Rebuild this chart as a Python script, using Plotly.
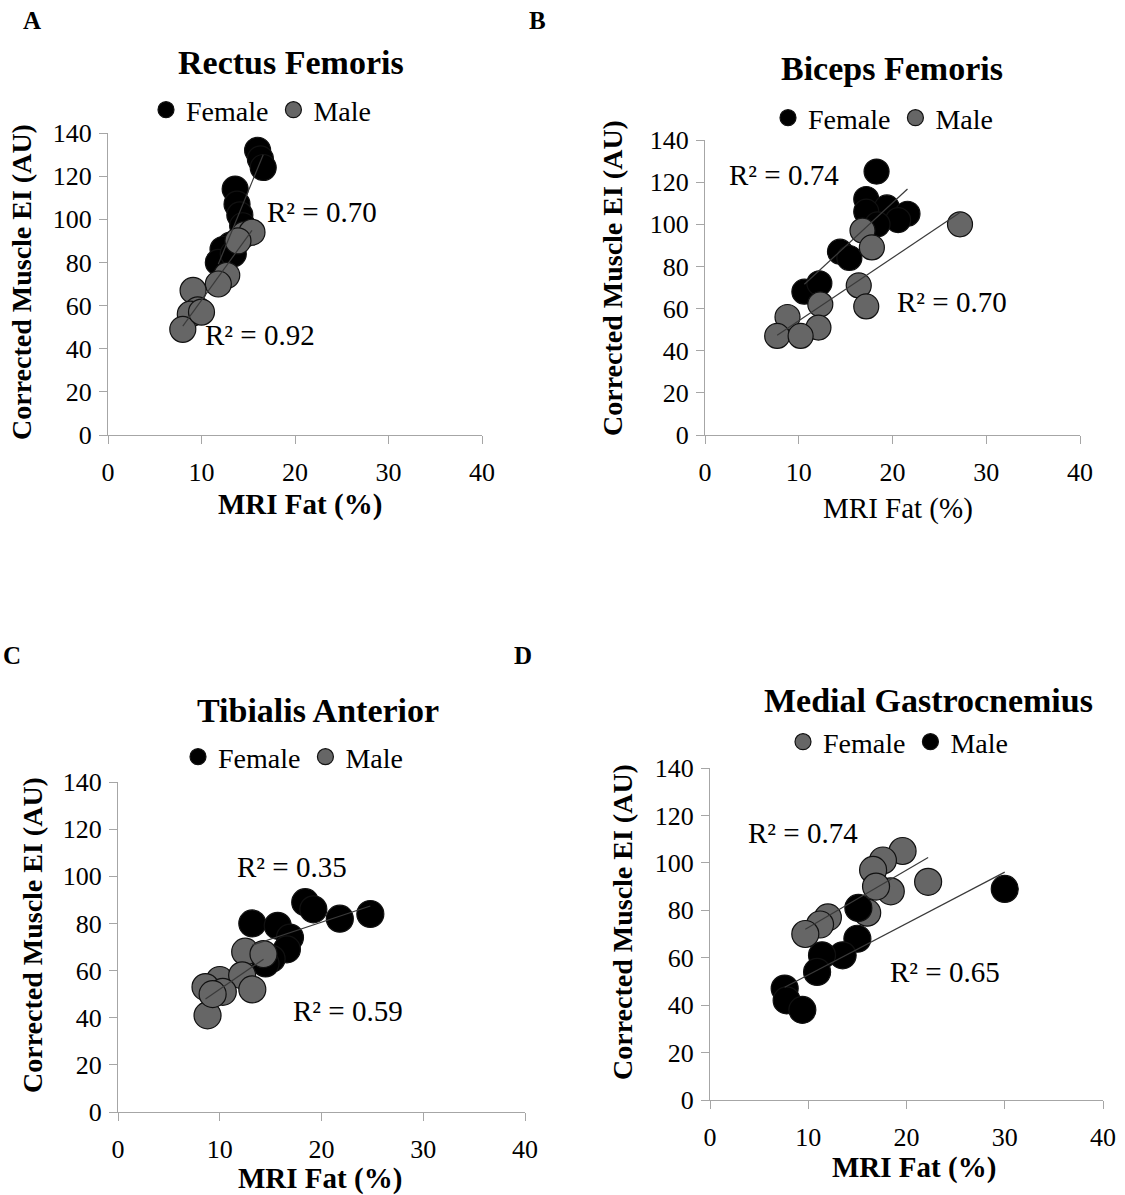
import numpy as np
import plotly.graph_objects as go

FONT = "Liberation Serif"

# ---------------- data ----------------
# Panel A - Rectus Femoris
a_f_x = [16.0, 16.3, 16.6, 13.6, 13.8, 14.1, 14.4, 13.1, 12.3, 11.8, 13.4]
a_f_y = [132, 128, 124, 114, 107, 102, 97, 88, 86, 80, 84]
a_m_x = [14.6, 15.4, 13.9, 12.7, 11.8, 9.1, 9.6, 8.8, 8.0, 10.0]
a_m_y = [93, 94, 90, 74, 70, 67, 58, 56, 49, 57]

# Panel B - Biceps Femoris
b_f_x = [18.3, 17.2, 19.4, 21.6, 20.6, 17.2, 18.4, 14.4, 15.4, 10.6, 12.2]
b_f_y = [125, 112, 108, 105, 102, 106, 100, 87, 84, 68, 72]
b_m_x = [27.2, 16.8, 17.8, 16.4, 17.2, 12.3, 8.8, 12.1, 7.7, 10.2]
b_m_y = [100, 97, 89, 71, 61, 62, 56, 51, 47, 47]

# Panel C - Tibialis Anterior
c_f_x = [18.4, 19.2, 21.8, 24.8, 13.2, 15.7, 16.9, 16.6, 15.1, 14.5]
c_f_y = [89, 86, 82, 84, 80, 79, 74, 69, 65, 63]
c_m_x = [12.5, 14.3, 10.0, 12.2, 13.2, 8.6, 8.8, 10.3, 9.3]
c_m_y = [68, 67, 56, 58, 52, 53, 41, 51, 50]

# Panel D - Medial Gastrocnemius (female = patterned, male = black)
d_f_x = [19.6, 17.6, 16.6, 22.2, 18.4, 16.9, 16.0, 12.0, 11.2, 9.7]
d_f_y = [105, 101, 97, 92, 88, 90, 79, 77, 74, 70]
d_m_x = [30.0, 15.1, 15.0, 13.5, 11.4, 10.9, 7.6, 7.8, 9.4]
d_m_y = [89, 81, 68, 61, 61, 54, 47, 42, 38]

titles = ["Rectus Femoris", "Biceps Femoris", "Tibialis Anterior", "Medial Gastrocnemius"]
letters = ["A", "B", "C", "D"]
r2_labels = [("R² = 0.70", "R² = 0.92"), ("R² = 0.74", "R² = 0.70"),
             ("R² = 0.35", "R² = 0.59"), ("R² = 0.74", "R² = 0.65")]
x_ticks = [0, 10, 20, 30, 40]
y_ticks = [0, 20, 40, 60, 80, 100, 120, 140]

# ---------------- layout geometry (pixels) ----------------
W, H = 1125, 1195
# plot areas: (left, right, top, bottom)
boxes = [(108, 482, 133, 435), (705, 1080, 140, 435), (118, 525, 782, 1112), (710, 1103, 768, 1100)]
msize = [26, 25, 27, 27]

BLACK = "#000000"
GRAY = "#666666"

fig = go.Figure()

panels = [
    (a_f_x, a_f_y, a_m_x, a_m_y, ("Female", BLACK), ("Male", GRAY)),
    (b_f_x, b_f_y, b_m_x, b_m_y, ("Female", BLACK), ("Male", GRAY)),
    (c_f_x, c_f_y, c_m_x, c_m_y, ("Female", BLACK), ("Male", GRAY)),
    (d_f_x, d_f_y, d_m_x, d_m_y, ("Female", GRAY), ("Male", BLACK)),
]

legend_names = ["legend", "legend2", "legend3", "legend4"]
legend_pos = [(146, 110), (768, 118), (178, 757), (783, 742)]

def trend(xs, ys):
    xs = np.asarray(xs, float); ys = np.asarray(ys, float)
    k, b = np.polyfit(xs, ys, 1)
    xx = np.array([xs.min(), xs.max()])
    return xx, k * xx + b

for i, (fx, fy, mx, my, s1, s2) in enumerate(panels):
    xa = "x" if i == 0 else f"x{i+1}"
    ya = "y" if i == 0 else f"y{i+1}"
    for (name, col), xs, ys in ((s1, fx, fy), (s2, mx, my)):
        fig.add_trace(go.Scatter(
            x=xs, y=ys, mode="markers", name=name, xaxis=xa, yaxis=ya,
            legend=legend_names[i],
            marker=dict(size=msize[i], color=col, line=dict(color="#111111", width=1.2)),
            cliponaxis=False,
        ))
    for xs, ys in ((fx, fy), (mx, my)):
        tx, ty = trend(xs, ys)
        fig.add_trace(go.Scatter(
            x=tx, y=ty, mode="lines", xaxis=xa, yaxis=ya, showlegend=False,
            line=dict(color="#3a3a3a", width=1.2), hoverinfo="skip",
        ))

axis_common = dict(
    showline=True, linecolor="#a6a6a6", linewidth=1.3, ticks="outside", ticklen=8,
    tickcolor="#a6a6a6", tickwidth=1.3, showgrid=False, zeroline=False,
    tickfont=dict(family=FONT, size=26, color="black"),
)

layout = dict(
    width=W, height=H, margin=dict(l=0, r=0, t=0, b=0, autoexpand=False),
    paper_bgcolor="white", plot_bgcolor="white", showlegend=True,
)

for i, (l, r, t, b) in enumerate(boxes):
    xk = "xaxis" if i == 0 else f"xaxis{i+1}"
    yk = "yaxis" if i == 0 else f"yaxis{i+1}"
    xa = "x" if i == 0 else f"x{i+1}"
    ya = "y" if i == 0 else f"y{i+1}"
    layout[xk] = dict(axis_common, domain=[l / W, r / W], range=[0, 40],
                      tickvals=x_ticks, anchor=ya, ticklabelstandoff=6)
    layout[yk] = dict(axis_common, domain=[1 - b / H, 1 - t / H], range=[0, 140],
                      tickvals=y_ticks, anchor=xa, ticklabelstandoff=2)
    lx, ly = legend_pos[i]
    layout[legend_names[i]] = dict(
        orientation="h", x=lx / W, y=1 - ly / H, xanchor="left", yanchor="middle",
        font=dict(family=FONT, size=28, color="black"), bgcolor="rgba(0,0,0,0)",
        itemsizing="trace", tracegroupgap=0, itemwidth=30,
    )

fig.update_layout(**layout)

def paper_text(text, px, py, size, angle=0):
    return dict(text=text, x=px / W, y=1 - py / H, xref="paper", yref="paper",
                xanchor="center", yanchor="middle", textangle=angle, showarrow=False,
                font=dict(family=FONT, size=size, color="black"))

ann = []
# titles
title_pos = [(291, 62), (892, 68), (318, 710), (928, 700)]
for (px, py), t in zip(title_pos, titles):
    ann.append(paper_text(f"<b>{t}</b>", px, py, 34))
# panel letters
letter_pos = [(32, 20), (537, 20), (12, 655), (523, 655)]
for (px, py), t in zip(letter_pos, letters):
    ann.append(paper_text(f"<b>{t}</b>", px, py, 25))
# y axis titles
ytitle_pos = [(22, 282), (612, 278), (32, 935), (622, 922)]
for px, py in ytitle_pos:
    ann.append(paper_text("<b>Corrected Muscle EI (AU)</b>", px, py, 28, -90))
# x axis titles
xtitle_pos = [(300, 505, True), (898, 508, False), (320, 1178, True), (914, 1167, True)]
for px, py, bold in xtitle_pos:
    txt = "<b>MRI Fat (%)</b>" if bold else "MRI Fat (%)"
    ann.append(paper_text(txt, px, py, 29))
# R² labels (data coordinates)
r2_pos = [((22.9, 103.4), (16.3, 46.4)), ((8.4, 123.4), (26.3, 63.1)),
          ((17.1, 104.0), (22.6, 43.0)), ((9.5, 112.6), (23.9, 54.0))]
for i, (pair, labs) in enumerate(zip(r2_pos, r2_labels)):
    xa = "x" if i == 0 else f"x{i+1}"
    ya = "y" if i == 0 else f"y{i+1}"
    for (dx, dy), lab in zip(pair, labs):
        ann.append(dict(text=lab, x=dx, y=dy, xref=xa, yref=ya, showarrow=False,
                        xanchor="center", yanchor="middle",
                        font=dict(family=FONT, size=29, color="black")))

fig.update_layout(annotations=ann)
fig.write_html("out.html")
